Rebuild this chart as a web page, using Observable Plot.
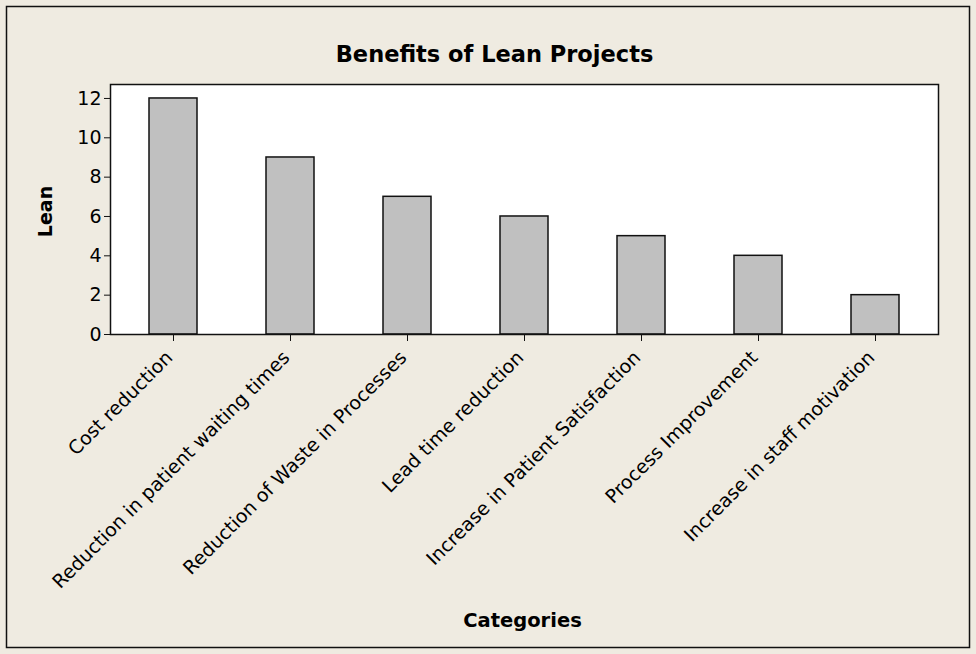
<!DOCTYPE html>
<html><head><meta charset="utf-8">
<script src="https://cdn.jsdelivr.net/npm/d3@7"></script>
<script src="https://cdn.jsdelivr.net/npm/@observablehq/plot@0.6"></script>
<style>body{margin:0;background:#fff}</style>
</head><body><div id="chart"></div>
<script>
const categories = [
  "Cost reduction",
  "Reduction in patient waiting times",
  "Reduction of Waste in Processes",
  "Lead time reduction",
  "Increase in Patient Satisfaction",
  "Process Improvement",
  "Increase in staff motivation"
];
const values = [12, 9, 7, 6, 5, 4, 2];
const yTicks = [0, 2, 4, 6, 8, 10, 12];
const titleText = "Benefits of Lean Projects";
const xLabel = "Categories";
const yLabel = "Lean";

const data = categories.map((c, i) => ({category: c, value: values[i]}));

const outerBorder = (index, scales, values, dims) => {
  const r = d3.create("svg:rect")
    .attr("x", 6.5).attr("y", 6.5)
    .attr("width", dims.width - 13).attr("height", dims.height - 13)
    .attr("fill", "none").attr("stroke", "#111").attr("stroke-width", 1.5);
  return r.node();
};

const chart = Plot.plot({
  width: 976,
  height: 654,
  marginLeft: 110,
  marginRight: 38,
  marginTop: 84,
  marginBottom: 320,
  style: {background: "#EFEBE1", fontFamily: "DejaVu Sans", fontSize: "19px", color: "black"},
  x: {domain: categories, paddingInner: 0.593, paddingOuter: 0.305},
  y: {domain: [0, 12.71]},
  marks: [
    outerBorder,
    Plot.frame({fill: "white"}),
    Plot.barY(data, {x: "category", y: "value", fill: "#C0C0C0", stroke: "#111", strokeWidth: 1.5}),
    Plot.frame({stroke: "#111", strokeWidth: 1.5}),
    Plot.axisY({ticks: yTicks, tickSize: 6, tickPadding: 3, label: null, fontSize: 19, stroke: "#111"}),
    Plot.axisX({tickRotate: -45, tickSize: 7, tickPadding: 4, label: null, fontSize: 19, stroke: "#111"}),
    Plot.text([titleText], {frameAnchor: "top", lineAnchor: "middle", dx: -30, dy: -30, text: d => d, fontWeight: "bold", fontSize: 22.5}),
    Plot.text([yLabel], {frameAnchor: "left", textAnchor: "middle", lineAnchor: "middle", dx: -65, dy: 2, rotate: -90, text: d => d, fontWeight: "bold", fontSize: 19}),
    Plot.text([xLabel], {frameAnchor: "bottom", lineAnchor: "middle", dx: -2, dy: 286, text: d => d, fontWeight: "bold", fontSize: 19.5})
  ]
});
// shift rotated x tick labels slightly down-left to match the reference placement
d3.select(chart).selectAll("g[aria-label='x-axis tick label']").attr("transform", function() {
  const t = this.getAttribute("transform") || "";
  return t + " translate(-4,9)";
});
document.getElementById("chart").appendChild(chart);
</script>
</body></html>
